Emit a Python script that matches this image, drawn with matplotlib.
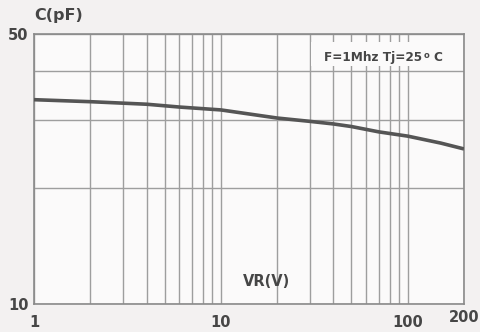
import matplotlib.pyplot as plt
from matplotlib.patches import Rectangle
from matplotlib.ticker import NullFormatter

# curve
vr = [1, 2, 4, 6, 10, 20, 30, 40, 50, 70, 100, 150, 200]
cap = [33.8, 33.4, 32.9, 32.35, 31.8, 30.3, 29.7, 29.25, 28.8, 27.9, 27.2, 26.1, 25.2]

x_major = [1, 10, 100, 200]
x_labels = ['1', '10', '100', '']
x_minor = [2, 3, 4, 5, 6, 7, 8, 9, 20, 30, 40, 50, 60, 70, 80, 90]
y_major = [10, 50]
y_minor = [20, 30, 40]

txt = '#464646'
grid = '#9e9e9e'
face = '#fbfafa'
plt.rcParams['font.family'] = ['DejaVu Sans']
plt.rcParams['font.weight'] = 'bold'

fig = plt.figure(figsize=(4.81, 3.32), dpi=100, facecolor='#f3f1f1')
ax = fig.add_axes([34/481, 1-304/332, 430/481, 270/332])
ax.set_facecolor(face)
ax.set_xscale('log')
ax.set_yscale('log')
ax.set_xlim(1, 200)
ax.set_ylim(10, 50)

ax.set_xticks(x_major)
ax.set_xticklabels(x_labels)
ax.set_xticks(x_minor, minor=True)
ax.set_yticks(y_major)
ax.set_yticklabels([str(v) for v in y_major])
ax.set_yticks(y_minor, minor=True)
ax.xaxis.set_minor_formatter(NullFormatter())
ax.yaxis.set_minor_formatter(NullFormatter())
ax.tick_params(which='both', length=0, labelsize=10.5, labelcolor=txt)
ax.tick_params(axis='x', pad=8)
ax.tick_params(axis='y', pad=4)
ax.grid(True, which='both', color=grid, linewidth=1.0, zorder=1)
ax.set_axisbelow(True)

for s in ax.spines.values():
    s.set_color('#8a8a8a')
    s.set_linewidth(1.2)

ax.plot(vr, cap, color='#555555', linewidth=2.6, solid_capstyle='butt', zorder=3)

# label 200 sits a little higher than the other x labels
ax.text(200, 9.2, '200', fontsize=10.5, color=txt, ha='center', va='center',
        clip_on=False)
ax.text(0.0, 1.07, 'C(pF)', transform=ax.transAxes, fontsize=11.5, color=txt,
        ha='left', va='center')
ax.text(0.54, 0.085, 'VR(V)', transform=ax.transAxes, fontsize=10.5, color=txt,
        ha='center', va='center')

# condition box (covers the grid)
ax.add_patch(Rectangle((0.645, 0.88), 0.352, 0.09, transform=ax.transAxes,
                       facecolor=face, edgecolor='none', zorder=2))
ax.text(0.903, 0.912, 'F=1Mhz Tj=25', transform=ax.transAxes, fontsize=8.7,
        color=txt, ha='right', va='center', zorder=4)
ax.text(0.905, 0.92, 'o', transform=ax.transAxes, fontsize=6,
        color=txt, ha='left', va='center', zorder=4)
ax.text(0.928, 0.912, 'C', transform=ax.transAxes, fontsize=8.7,
        color=txt, ha='left', va='center', zorder=4)

fig.savefig('out.png', dpi=100, facecolor=fig.get_facecolor())
